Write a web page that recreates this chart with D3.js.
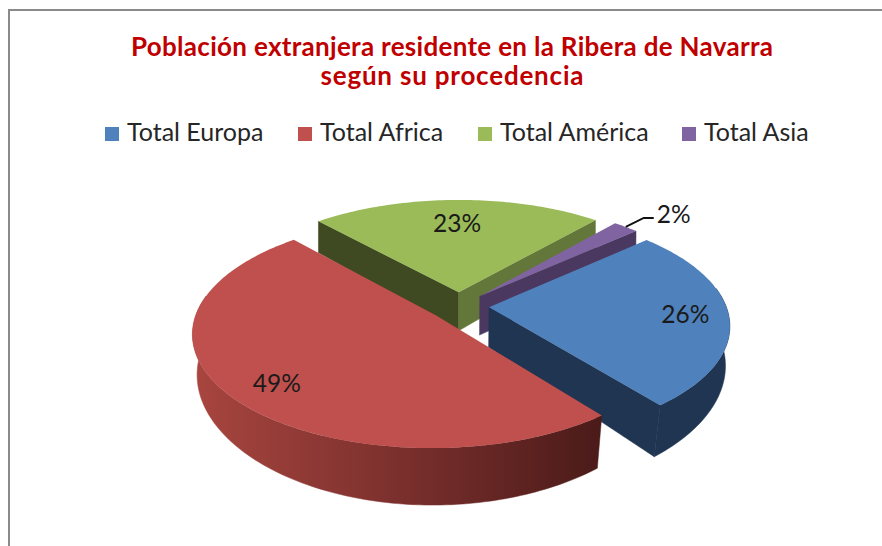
<!DOCTYPE html>
<html>
<head>
<meta charset="utf-8">
<script src="https://cdn.jsdelivr.net/npm/d3@7"></script>
<style>
  html, body { margin: 0; padding: 0; background: #fff; }
  svg { display: block; }
  text { font-family: Lato, "Open Sans", sans-serif; }
</style>
</head>
<body>
<div id="chart"></div>
<script>
var categories = ["Total Europa", "Total Africa", "Total América", "Total Asia"];
var shares = [26, 49, 23, 2];
var titleLines = ["Población extranjera residente en la Ribera de Navarra", "según su procedencia"];

var topColors = ["#4f81bd", "#c0504d", "#9bbb59", "#8064a2"];
var startWallColors = ["#1f3552", "#7a2e2b", "#3f4a23", "#4a3860"];
var endWallColors = ["#1f3552", "#7a2e2b", "#64773a", "#4a3860"];

var width = 882, height = 546;
var centerX = 459, centerY = 306;
var radius = 237;
var tilt = 110 / 237;
var perspective = 0.15;
var explode = 0.127;
var depth = 40;
var labelRadii = [0.82, 0.79, 0.72, 1];
var labelNudgeY = [0, 6, 0, 0];

var svg = d3.select("#chart").append("svg")
  .attr("width", width)
  .attr("height", height)
  .attr("viewBox", `0 0 ${width} ${height}`);

var defs = svg.append("defs");
var redRim = defs.append("linearGradient")
  .attr("id", "redRim")
  .attr("gradientUnits", "userSpaceOnUse")
  .attr("x1", 195).attr("x2", 600).attr("y1", 0).attr("y2", 0);
redRim.append("stop").attr("offset", 0).attr("stop-color", "#a8453f");
redRim.append("stop").attr("offset", 0.45).attr("stop-color", "#80322f");
redRim.append("stop").attr("offset", 1).attr("stop-color", "#4b1b19");

// chart frame, only top and left are in the crop
svg.append("path")
  .attr("d", `M9,${height} V10 H${width}`)
  .attr("fill", "none")
  .attr("stroke", "#8a8a8a")
  .attr("stroke-width", 2);

// title lines stretched to the width they have in the picture
var titleWidths = [642, 263];
svg.selectAll(".titleLine").data(titleLines).enter().append("text")
  .attr("class", "titleLine")
  .attr("x", 452)
  .attr("y", (d, i) => 56 + i * 29)
  .attr("text-anchor", "middle")
  .attr("fill", "#c00000")
  .attr("font-weight", 700)
  .attr("font-size", 26)
  .attr("textLength", (d, i) => titleWidths[i])
  .attr("lengthAdjust", "spacing")
  .text(d => d);

// legend
var legendX = [105, 298, 478, 682];
var legend = svg.selectAll(".legendItem").data(categories).enter().append("g")
  .attr("class", "legendItem")
  .attr("transform", (d, i) => `translate(${legendX[i]}, 127)`);
legend.append("rect")
  .attr("width", 14)
  .attr("height", 14)
  .attr("fill", (d, i) => topColors[i]);
legend.append("text")
  .attr("x", 22)
  .attr("y", 14)
  .attr("font-size", 25)
  .attr("fill", "#262626")
  .text(d => d);

// ground plane (x right, z towards viewer, in radius units) to screen
function project(x, z, drop) {
  var k = 1 / (1 - perspective * z);
  var sx = radius * x * k;
  // the lower face sits a bit further away, so it narrows near the front
  if (drop) sx *= 1 - 0.12 * Math.max(0, k - 0.89);
  return [
    centerX + sx,
    centerY + radius * tilt * z * k + (drop ? depth * k * k : 0)
  ];
}

var pie = d3.pie().sort(null)
  .startAngle(48 * Math.PI / 180)
  .endAngle(408 * Math.PI / 180);
var slices = pie(shares);
var line = d3.line();

function apexOf(s) {
  var mid = (s.startAngle + s.endAngle) / 2;
  return [explode * Math.sin(mid), -explode * Math.cos(mid)];
}
function groundAt(s, angle, r) {
  var a = apexOf(s);
  return [a[0] + r * Math.sin(angle), a[1] - r * Math.cos(angle)];
}
function arcAngles(a0, a1) {
  var n = Math.max(2, Math.ceil((a1 - a0) / 0.02));
  return d3.range(n + 1).map(i => a0 + (a1 - a0) * i / n);
}
function facesViewer(normalAngle) {
  return -Math.cos(normalAngle) > 0;
}
function wall(s, angle, color) {
  var a = apexOf(s), p = groundAt(s, angle, 1);
  g.append("path")
    .attr("d", line([
      project(a[0], a[1]), project(p[0], p[1]),
      project(p[0], p[1], true), project(a[0], a[1], true)
    ]) + "Z")
    .attr("fill", color)
    .attr("stroke", color)
    .attr("stroke-width", 0.5);
}

// back to front: green, purple, blue, red
var g = svg.append("g");
[2, 3, 0, 1].forEach(function(idx) {
  var s = slices[idx];

  if (facesViewer(s.startAngle - Math.PI / 2)) wall(s, s.startAngle, startWallColors[idx]);
  if (facesViewer(s.endAngle + Math.PI / 2)) wall(s, s.endAngle, endWallColors[idx]);

  // outer rim, only the part turned to the viewer
  var lo = Math.max(s.startAngle, 80 * Math.PI / 180);
  var hi = Math.min(s.endAngle, 280 * Math.PI / 180);
  if (lo < hi) {
    var upper = arcAngles(lo, hi).map(t => groundAt(s, t, 1));
    var rimPts = upper.map(p => project(p[0], p[1]))
      .concat(upper.slice().reverse().map(p => project(p[0], p[1], true)));
    var rimFill = idx === 1 ? "url(#redRim)" : startWallColors[idx];
    g.append("path")
      .attr("d", line(rimPts) + "Z")
      .attr("fill", rimFill)
      .attr("stroke", rimFill)
      .attr("stroke-width", 0.5);
  }

  var a = apexOf(s);
  var topPts = [project(a[0], a[1])].concat(
    arcAngles(s.startAngle, s.endAngle).map(t => {
      var p = groundAt(s, t, 1);
      return project(p[0], p[1]);
    }));
  g.append("path")
    .attr("d", line(topPts) + "Z")
    .attr("fill", topColors[idx]);
});

// data labels
slices.forEach(function(s, idx) {
  var mid = (s.startAngle + s.endAngle) / 2;
  var outside = shares[idx] < 5;
  var p = groundAt(s, mid, labelRadii[idx]);
  var pos = project(p[0], p[1]);
  if (outside) {
    svg.append("path")
      .attr("d", line([pos, [pos[0] + 18, pos[1] - 9], [pos[0] + 28, pos[1] - 9]]))
      .attr("fill", "none")
      .attr("stroke", "#111")
      .attr("stroke-width", 2);
    pos = [pos[0] + 48, pos[1] - 13];
  }
  svg.append("text")
    .attr("x", pos[0])
    .attr("y", pos[1] + labelNudgeY[idx])
    .attr("dy", "0.35em")
    .attr("text-anchor", "middle")
    .attr("font-size", 24.5)
    .attr("fill", "#1a1a1a")
    .text(shares[idx] + "%");
});
</script>
</body>
</html>
